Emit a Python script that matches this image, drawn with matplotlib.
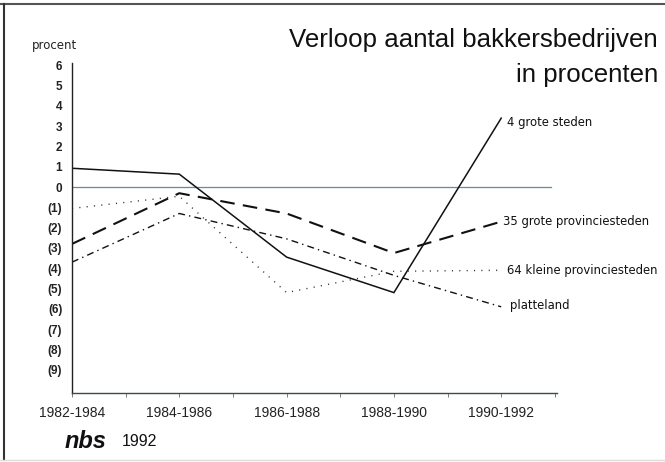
import matplotlib
matplotlib.use("Agg")
import matplotlib.pyplot as plt
from matplotlib.lines import Line2D

plt.rcParams['font.family'] = ['Liberation Sans', 'DejaVu Sans']

periods = ["1982-1984", "1984-1986", "1986-1988", "1988-1990", "1990-1992"]
grote_steden = [0.93, 0.64, -3.45, -5.2, 3.4]
grote_provinciesteden = [-2.8, -0.3, -1.3, -3.25, -1.7]
kleine_provinciesteden = [-1.05, -0.45, -5.2, -4.15, -4.1]
platteland = [-3.7, -1.3, -2.55, -4.35, -5.9]
series_names = ["4 grote steden", "35 grote provinciesteden",
                "64 kleine provinciesteden", "platteland"]
ytick_values = [6, 5, 4, 3, 2, 1, 0, -1, -2, -3, -4, -5, -6, -7, -8, -9]
ytick_labels = ["6", "5", "4", "3", "2", "1", "0", "(1)", "(2)", "(3)", "(4)",
                "(5)", "(6)", "(7)", "(8)", "(9)"]

W, H = 665, 462
fig = plt.figure(figsize=(W / 100, H / 100), dpi=100)
fig.patch.set_facecolor("white")

x0, x1 = 72, 557
y0, y1 = 393, 63
ax = fig.add_axes([x0 / W, 1 - y0 / H, (x1 - x0) / W, (y0 - y1) / H])
ax.set_xlim(0, 4.52)
ax.set_ylim(-10.15, 6.12)
ax.set_facecolor("white")

xs = list(range(len(periods)))
styles = [
    dict(color="#111111", lw=1.1, linestyle="-"),
    dict(color="#111111", lw=1.5, linestyle=(0, (7, 4))),
    dict(color="#333333", lw=1.0, linestyle=(0, (0.8, 4.5))),
    dict(color="#111111", lw=1.0, linestyle=(0, (5, 3, 1, 3))),
]
data = [grote_steden, grote_provinciesteden, kleine_provinciesteden, platteland]
label_offsets = [(4, -3), (1, 0), (4, 0), (6, 1)]
for vals, st, name, off in zip(data, styles, series_names, label_offsets):
    ax.plot(xs, vals, **st, solid_joinstyle="miter", dash_joinstyle="miter")
    ax.annotate(name, xy=(xs[-1], vals[-1]), xytext=off,
                textcoords="offset points", fontsize=8.4, va="center",
                ha="left", color="#111111", annotation_clip=False,
                family=["DejaVu Sans"])

ax.plot([0, 4.46], [0, 0], color="#5f8f9c", lw=0.9, zorder=1)

for s in ["top", "right"]:
    ax.spines[s].set_visible(False)
ax.spines["left"].set_color("#222222")
ax.spines["left"].set_linewidth(1.0)
ax.spines["bottom"].set_color("#3a4a4f")
ax.spines["bottom"].set_linewidth(1.0)

ax.set_yticks(ytick_values)
ax.set_yticklabels(ytick_labels, fontsize=8.5, fontweight="bold", color="#222222")
ax.tick_params(axis="y", length=0, pad=7)

ax.set_xticks(xs)
ax.set_xticklabels(periods, fontsize=10, color="#222222")
ax.set_xticks([i + 0.5 for i in xs], minor=True)
ax.tick_params(axis="x", which="both", length=3, width=0.6, color="#666666",
               pad=6.5, direction="out")

fig.text(32 / W, 1 - 45 / H, "procent", fontsize=8.5, color="#222222",
         ha="left", va="center", family=["DejaVu Sans"])
fig.text(658 / W, 1 - 40 / H, "Verloop aantal bakkersbedrijven",
         fontsize=18.6, ha="right", va="center", color="#111111")
fig.text(658 / W, 1 - 75 / H, "in procenten",
         fontsize=18.6, ha="right", va="center", color="#111111")
fig.text(65 / W, 1 - 441 / H, "nbs", fontsize=17, fontweight="bold",
         style="italic", ha="left", va="center", color="#111111")
fig.text(122 / W, 1 - 442 / H, "1992", fontsize=11.5, ha="left",
         va="center", color="#111111")

fig.add_artist(Line2D([0, 1], [1 - 4 / H, 1 - 4 / H], transform=fig.transFigure,
                      color="#555555", lw=1.5))
fig.add_artist(Line2D([4 / W, 4 / W], [1 - 4 / H, 1 - 460 / H],
                      transform=fig.transFigure, color="#333333", lw=1.5))
fig.add_artist(Line2D([0, 1], [1 - 460 / H, 1 - 460 / H], transform=fig.transFigure,
                      color="#dddddd", lw=1.0))

fig.savefig("out.png", dpi=100, facecolor="white")
